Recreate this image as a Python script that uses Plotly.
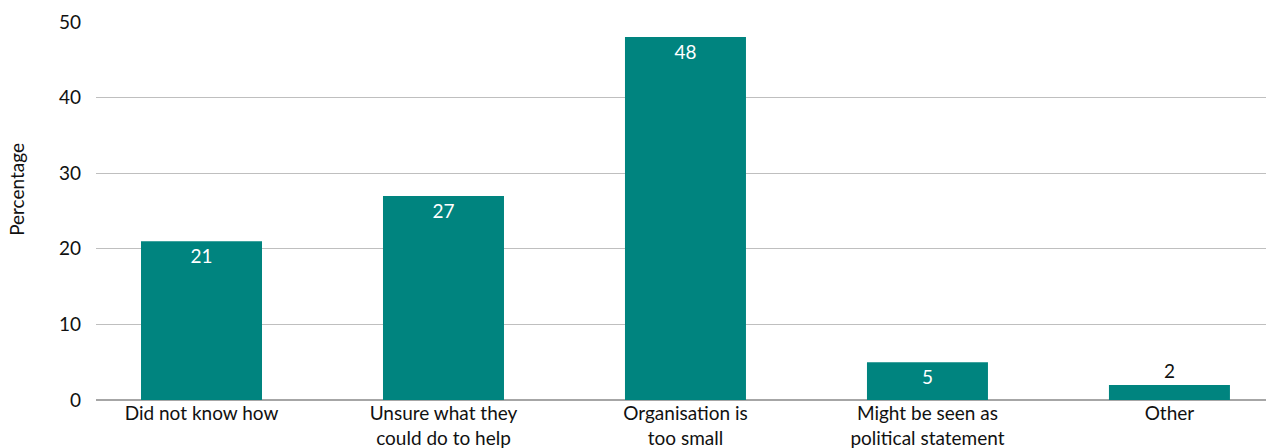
import plotly.graph_objects as go

categories = [
    "Did not know how",
    "Unsure what they<br>could do to help",
    "Organisation is<br>too small",
    "Might be seen as<br>political statement",
    "Other",
]
values = [21, 27, 48, 5, 2]
y_ticks = [0, 10, 20, 30, 40, 50]

TEAL = "#00847F"
FONT = "Lato"
INK = "#111111"

fig = go.Figure(
    go.Bar(
        x=list(range(len(categories))),
        y=values,
        width=0.5,
        marker=dict(color=TEAL, line=dict(width=0)),
        text=[str(v) for v in values],
        textposition=["inside", "inside", "inside", "inside", "outside"],
        insidetextanchor="end",
        insidetextfont=dict(color="white", size=19, family=FONT),
        outsidetextfont=dict(color=INK, size=19, family=FONT),
        cliponaxis=False,
        textangle=0,
    )
)

fig.update_layout(
    width=1266,
    height=448,
    margin=dict(l=96, r=0, t=22, b=48),
    plot_bgcolor="white",
    paper_bgcolor="white",
    showlegend=False,
    font=dict(family=FONT, size=19, color=INK),
    xaxis=dict(
        range=[-0.436, 4.399],
        tickmode="array",
        tickvals=list(range(len(categories))),
        ticktext=categories,
        showgrid=False,
        showline=False,
        zeroline=False,
        ticks="",
        ticklabelstandoff=0,
        tickfont=dict(size=19, family=FONT, color=INK),
    ),
    yaxis=dict(
        range=[0, 50],
        tickvals=y_ticks,
        showgrid=True,
        gridcolor="#BFBFBF",
        gridwidth=1,
        zeroline=True,
        zerolinecolor="#A6A6A6",
        zerolinewidth=2,
        showline=False,
        ticks="",
        ticklabelstandoff=14,
        tickfont=dict(size=19, family=FONT, color=INK),
    ),
    annotations=[
        dict(
            text="Percentage",
            xref="paper",
            yref="paper",
            x=-0.0675,
            y=0.556,
            xanchor="center",
            yanchor="middle",
            textangle=-90,
            showarrow=False,
            font=dict(size=19, family=FONT, color=INK),
        )
    ],
)

fig.write_html("out.html")
